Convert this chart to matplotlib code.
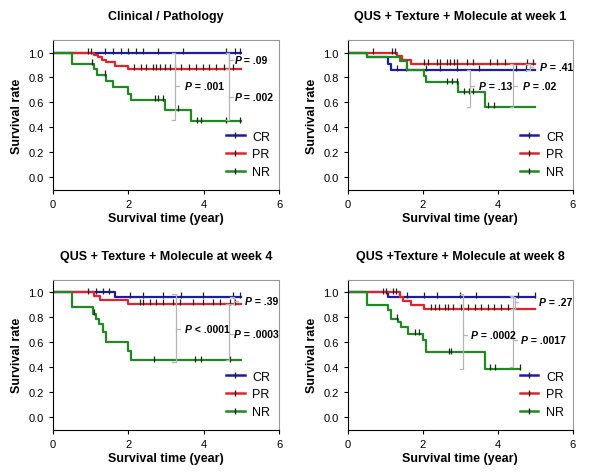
import numpy as np
import matplotlib
matplotlib.use('Agg')
import matplotlib.pyplot as plt
from matplotlib.lines import Line2D

plt.rcParams['font.family'] = ['Liberation Sans', 'DejaVu Sans']

titles = ['Clinical / Pathology',
          'QUS + Texture + Molecule at week 1',
          'QUS + Texture + Molecule at week 4',
          'QUS +Texture + Molecule at week 8']
groups = ['CR', 'PR', 'NR']
colors = {'CR': '#1c1ca6', 'PR': '#e3222a', 'NR': '#1f8a1f'}

# event times / survival after each event / censored times / last follow-up
cr1_t = []
cr1_s = []
cr1_c = [1.37, 1.59, 1.81, 1.99, 2.21, 2.39, 2.79, 3.45, 4.6, 4.82, 4.96]
pr1_t = [1.08, 1.2, 1.3, 1.4, 1.65, 2.0]
pr1_s = [0.98, 0.96, 0.94, 0.92, 0.89, 0.87]
pr1_c = [0.93, 1.02, 2.15, 2.35, 2.48, 2.65, 2.74, 2.83, 2.97, 3.1, 3.23, 3.4,
         3.6, 3.8, 3.98, 4.15, 4.33, 4.55, 4.78]
nr1_t = [0.5, 1.08, 1.18, 1.4, 1.6, 2.0, 2.08, 2.98, 3.67]
nr1_s = [0.91, 0.87, 0.82, 0.77, 0.72, 0.67, 0.62, 0.54, 0.45]
nr1_c = [1.04, 1.37, 2.7, 2.79, 2.92, 3.32, 3.81, 3.94, 4.6, 4.96]

cr2_t = [0.52, 1.06, 1.15]
cr2_s = [0.96, 0.91, 0.86]
cr2_c = [1.3, 1.55, 2.08, 2.45, 2.9, 3.5, 4.5, 4.75]
pr2_t = [1.32, 1.44, 1.68]
pr2_s = [0.97, 0.94, 0.91]
pr2_c = [0.67, 1.17, 1.26, 2.02, 2.15, 2.37, 2.46, 2.64, 2.73, 2.82, 2.91, 3.17,
         3.35, 3.8, 3.97, 4.2, 4.77, 4.95]
nr2_t = [0.52, 1.4, 1.58, 2.03, 2.09, 2.93, 3.66]
nr2_s = [0.96, 0.93, 0.86, 0.81, 0.76, 0.68, 0.565]
nr2_c = [2.64, 2.77, 2.91, 3.1, 3.22, 3.35, 3.75, 3.91]

cr3_t = [1.64]
cr3_s = [0.965]
cr3_c = [1.15, 1.33, 1.5, 2.04, 2.4, 2.92, 3.41, 3.98, 4.78, 4.96]
pr3_t = [1.09, 1.24, 1.99]
pr3_s = [0.975, 0.94, 0.91]
pr3_c = [0.93, 2.3, 2.39, 2.57, 2.74, 2.92, 3.19, 3.36, 3.72, 3.98, 4.25, 4.42,
         4.69, 4.82]
nr3_t = [0.5, 1.07, 1.14, 1.22, 1.33, 1.42, 1.99, 2.08]
nr3_s = [0.88, 0.83, 0.79, 0.75, 0.68, 0.605, 0.53, 0.455]
nr3_c = [1.1, 2.67, 3.76, 3.94, 4.69]

cr4_t = [1.06]
cr4_s = [0.965]
cr4_c = [1.58, 2.04, 2.38, 3.0, 3.42, 4.53, 5.0]
pr4_t = [1.38, 1.47, 1.69, 2.03]
pr4_s = [0.96, 0.93, 0.90, 0.87]
pr4_c = [0.93, 1.02, 1.2, 1.29, 2.22, 2.33, 2.44, 2.58, 2.67, 2.8, 3.02, 3.2,
         3.38, 3.56, 3.73, 3.91, 4.09, 4.27]
nr4_t = [0.5, 1.07, 1.15, 1.35, 1.42, 1.6, 2.0, 2.08, 3.67]
nr4_s = [0.90, 0.86, 0.79, 0.76, 0.72, 0.67, 0.62, 0.52, 0.39]
nr4_c = [1.3, 1.8, 1.9, 2.7, 2.76, 3.78, 3.93, 4.6]

ends = [[5.0, 5.0, 5.0], [5.0, 5.0, 5.0], [5.0, 5.0, 5.0], [5.0, 5.0, 4.6]]

curves = [
    [(cr1_t, cr1_s, cr1_c), (pr1_t, pr1_s, pr1_c), (nr1_t, nr1_s, nr1_c)],
    [(cr2_t, cr2_s, cr2_c), (pr2_t, pr2_s, pr2_c), (nr2_t, nr2_s, nr2_c)],
    [(cr3_t, cr3_s, cr3_c), (pr3_t, pr3_s, pr3_c), (nr3_t, nr3_s, nr3_c)],
    [(cr4_t, cr4_s, cr4_c), (pr4_t, pr4_s, pr4_c), (nr4_t, nr4_s, nr4_c)],
]

# log-rank p-values: (bracket x, top, bottom, text, text x, text y)
pvals = [
    [(3.25, 1.0, 0.46, ' = .001', 3.5, 0.73),
     (4.67, 1.0, 0.46, ' = .002', 4.82, 0.645),
     (4.67, 1.0, 0.87, ' = .09', 4.82, 0.94)],
    [(3.27, 0.86, 0.565, ' = .13', 3.5, 0.73),
     (4.42, 0.91, 0.565, ' = .02', 4.67, 0.73),
     (4.85, 0.91, 0.86, ' = .41', 5.12, 0.88)],
    [(3.26, 0.99, 0.44, ' < .0001', 3.5, 0.71),
     (4.67, 0.91, 0.455, ' = .0003', 4.8, 0.67),
     (4.8, 0.965, 0.91, ' = .39', 5.1, 0.93)],
    [(3.08, 0.99, 0.39, ' = .0002', 3.28, 0.66),
     (4.42, 0.97, 0.40, ' = .0017', 4.62, 0.62),
     (4.45, 0.965, 0.87, ' = .27', 5.1, 0.92)],
]


def km_curve(ax, t, s, c, end, color):
    xs = np.array([0.0] + list(t) + [end])
    ys = np.array([1.0] + list(s) + [s[-1] if s else 1.0])
    ax.step(xs, ys, where='post', color=color, lw=1.6)
    c = np.array(c)
    idx = np.searchsorted(xs[:-1], c, side='right') - 1
    ax.plot(c, ys[idx] + 0.012, ls='none', marker='|', ms=4.5, mew=0.9,
            color='#222222')


def bracket(ax, x, top, bot, label, tx, ty):
    g = '#b5b5b5'
    cap = 0.09
    ax.plot([x - cap, x, x, x - cap], [top, top, bot, bot], color=g, lw=0.9)
    ax.plot([x, x + 0.1], [ty, ty], color=g, lw=0.9)
    t1 = ax.text(tx, ty, 'P', fontsize=7.5, fontweight='bold',
                 fontstyle='italic', va='center', ha='left')
    ax.annotate(label, xy=(1, 0.5), xycoords=t1, fontsize=7.5,
                fontweight='bold', va='center', ha='left')


fig = plt.figure(figsize=(6.08, 4.77), dpi=100)
boxes = [(0.087, 0.60, 0.372, 0.314), (0.572, 0.60, 0.370, 0.314),
         (0.087, 0.097, 0.372, 0.314), (0.572, 0.097, 0.370, 0.314)]

for k in range(4):
    ax = fig.add_axes(boxes[k])
    for g, (t, s, c), end in zip(groups, curves[k], ends[k]):
        km_curve(ax, t, s, c, end, colors[g])
    for b in pvals[k]:
        bracket(ax, *b)
    ax.set_xlim(0, 6)
    ax.set_ylim(-0.1, 1.1)
    ax.set_xticks([0, 2, 4, 6])
    ax.set_yticks(np.arange(0, 1.01, 0.2))
    ax.set_yticklabels(['%.1f' % v for v in np.arange(0, 1.01, 0.2)])
    ax.tick_params(labelsize=8, length=3, width=0.8)
    ax.spines['top'].set_color('#999999')
    ax.spines['right'].set_color('#999999')
    ax.set_title(titles[k], fontsize=9, fontweight='bold', pad=15)
    ax.set_xlabel('Survival time (year)', fontsize=9, fontweight='bold', labelpad=2)
    ax.set_ylabel('Survival rate', fontsize=9, fontweight='bold', labelpad=4)
    handles = [Line2D([], [], color=colors[g], lw=1.8, marker='|', ms=4.5,
                      mec='#222222') for g in groups]
    ax.legend(handles, groups, loc='lower right', bbox_to_anchor=(1.0, 0.02),
              frameon=False, fontsize=9, handlelength=1.5, labelspacing=0.45,
              handletextpad=0.6, borderaxespad=0.3)

fig.savefig('out.png', dpi=100)
